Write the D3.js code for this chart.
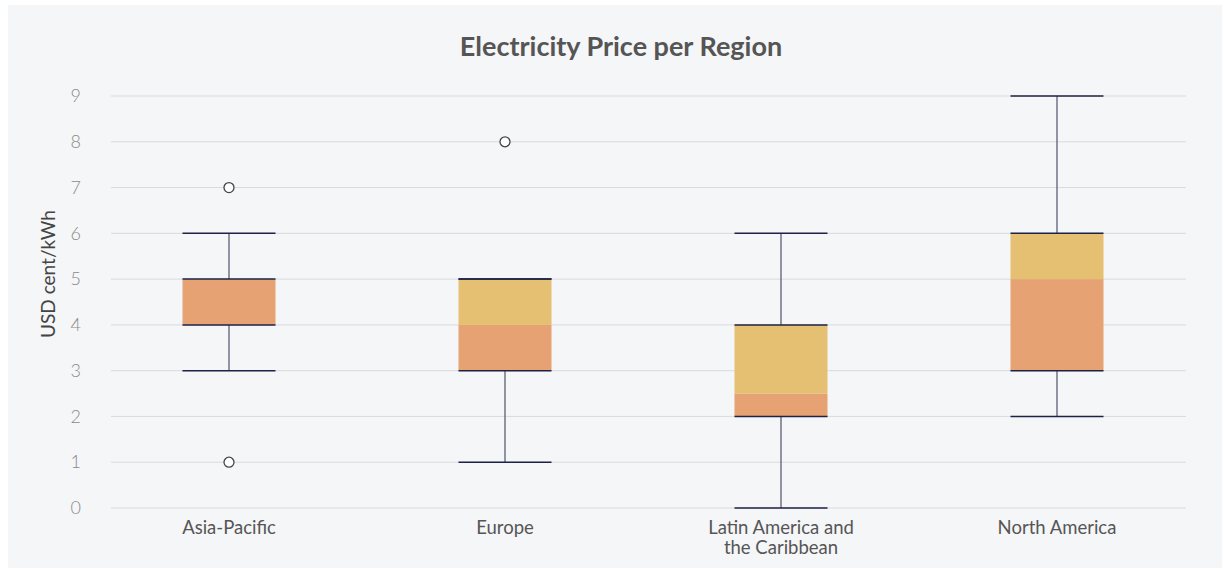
<!DOCTYPE html>
<html>
<head>
<meta charset="utf-8">
<script src="https://cdn.jsdelivr.net/npm/d3@7"></script>
<style>
  html, body { margin: 0; padding: 0; background: #ffffff; }
  svg { display: block; font-family: Lato, "Open Sans", sans-serif; }
</style>
</head>
<body>
<script>
'use strict';
const regions = ["Asia-Pacific", "Europe", "Latin America and the Caribbean", "North America"];
const labelLines = [["Asia-Pacific"], ["Europe"], ["Latin America and", "the Caribbean"], ["North America"]];
const mins = [3, 1, 0, 2];
const q1s = [4, 3, 2, 3];
const medians = [5, 4, 2.5, 5];
const q3s = [5, 5, 4, 6];
const maxs = [6, 5, 6, 9];
const outliers = [[7, 1], [8], [], []];
const yTicks = [0, 1, 2, 3, 4, 5, 6, 7, 8, 9];

(function () {
  const width = 1230, height = 573;
  const svg = d3.select('body').append('svg')
    .attr('width', width).attr('height', height);

  svg.append('rect')
    .attr('x', 8).attr('y', 5)
    .attr('width', 1214).attr('height', 563)
    .attr('fill', '#f5f6f8');

  const x = d3.scaleBand().domain(regions).range([91, 1195]);
  const y = d3.scaleLinear().domain([0, 9]).range([508, 96]);
  const boxW = 93;

  // grid
  svg.append('g').selectAll('line').data(yTicks).enter().append('line')
    .attr('x1', 111).attr('x2', 1186)
    .attr('y1', d => y(d)).attr('y2', d => y(d))
    .attr('stroke', '#d9dadf').attr('stroke-width', 1);

  const yAxis = d3.axisLeft(y).tickValues(yTicks).tickSize(0).tickPadding(0);
  const gy = svg.append('g').attr('transform', 'translate(81,0)').call(yAxis);
  gy.select('.domain').remove();
  gy.selectAll('text')
    .attr('fill', '#8a8a8a').style('font-size', '18px').style('font-weight', 300)
    .style('font-family', 'Lato').attr('dy', '0.32em');

  svg.append('text')
    .attr('transform', 'translate(55,274)rotate(-90)')
    .attr('text-anchor', 'middle')
    .attr('fill', '#444').style('font-size', '19px')
    .text('USD cent/kWh');

  svg.append('text')
    .attr('x', 621).attr('y', 56)
    .attr('text-anchor', 'middle')
    .attr('fill', '#555').style('font-size', '27px').style('font-weight', 700)
    .text('Electricity Price per Region');

  const boxes = svg.append('g').selectAll('g').data(regions).enter().append('g');
  const cx = d => x(d) + x.bandwidth() / 2;
  boxes.each(function (d, i) {
    const g = d3.select(this);
    const c = cx(d);
    // whiskers
    g.append('line').attr('x1', c).attr('x2', c)
      .attr('y1', y(maxs[i])).attr('y2', y(q3s[i]))
      .attr('stroke', '#5a5f78').attr('stroke-width', 1.3);
    g.append('line').attr('x1', c).attr('x2', c)
      .attr('y1', y(q1s[i])).attr('y2', y(mins[i]))
      .attr('stroke', '#5a5f78').attr('stroke-width', 1.3);
    // boxes
    g.append('rect').attr('x', c - boxW / 2).attr('width', boxW)
      .attr('y', y(medians[i])).attr('height', y(q1s[i]) - y(medians[i]))
      .attr('fill', '#e6a273');
    g.append('rect').attr('x', c - boxW / 2).attr('width', boxW)
      .attr('y', y(q3s[i])).attr('height', y(medians[i]) - y(q3s[i]))
      .attr('fill', '#e5bf72');
    [mins[i], q1s[i], q3s[i], maxs[i]].forEach(v => {
      g.append('line').attr('x1', c - boxW / 2).attr('x2', c + boxW / 2)
        .attr('y1', y(v)).attr('y2', y(v))
        .attr('stroke', '#1e2346').attr('stroke-width', 1.5);
    });
    g.selectAll('circle').data(outliers[i]).enter().append('circle')
      .attr('cx', c).attr('cy', v => y(v)).attr('r', 5)
      .attr('fill', '#ffffff').attr('stroke', '#444').attr('stroke-width', 1.3);
    const t = g.append('text').attr('text-anchor', 'middle')
      .attr('fill', '#555').style('font-size', '18.5px');
    labelLines[i].forEach((ln, k) => {
      t.append('tspan').attr('x', c).attr('y', 534 + k * 20).text(ln);
    });
  });
})();
</script>
</body>
</html>
